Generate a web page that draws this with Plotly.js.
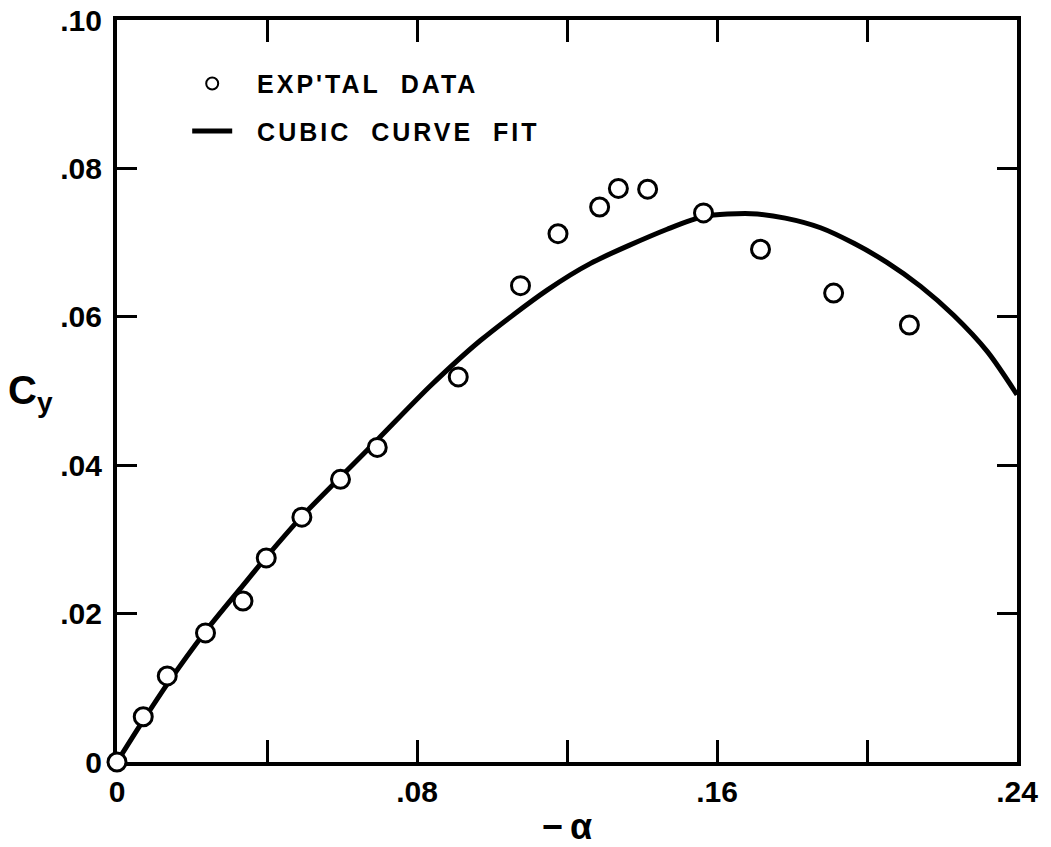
<!DOCTYPE html>
<html>
<head>
<meta charset="utf-8">
<script src="https://cdn.plot.ly/plotly-3.0.1.min.js"></script>
<style>
html, body { margin: 0; padding: 0; background: #fff; }
#chart { width: 1051px; height: 847px; }
.legendtext { letter-spacing: 3px; }
</style>
</head>
<body>
<div id="chart"></div>
<script>
// Experimental data: -alpha vs Cy
const expAlpha = [0, 0.0070, 0.0134, 0.0236, 0.0336, 0.0398, 0.0493, 0.0596, 0.0694, 0.0910, 0.1076, 0.1176, 0.1287, 0.1337, 0.1415, 0.1564, 0.1716, 0.1911, 0.2113];
const expCy    = [0, 0.0061, 0.0116, 0.0174, 0.0217, 0.0275, 0.0330, 0.0381, 0.0424, 0.0519, 0.0642, 0.0712, 0.0748, 0.0773, 0.0772, 0.0740, 0.0691, 0.0632, 0.0589];

// Cubic curve fit
const fitAlpha = [0, 0.0070, 0.0134, 0.0236, 0.0336, 0.0398, 0.0493, 0.0596, 0.0694, 0.0836, 0.0969, 0.1147, 0.1263, 0.1467, 0.1564, 0.1691, 0.1782, 0.1876, 0.1965, 0.2054, 0.2143, 0.2231, 0.2321, 0.2400];
const fitCy    = [0, 0.0056, 0.0105, 0.0176, 0.0238, 0.0276, 0.0331, 0.0384, 0.0434, 0.0507, 0.0568, 0.0636, 0.0672, 0.0718, 0.0735, 0.0739, 0.0733, 0.0720, 0.0699, 0.0673, 0.0641, 0.0602, 0.0553, 0.0495];

const xTickVals = [0, 0.04, 0.08, 0.12, 0.16, 0.20, 0.24];
const xTickText = ["0", "", ".08", "", ".16", "", ".24"];
const yTickVals = [0, 0.02, 0.04, 0.06, 0.08, 0.10];
const yTickText = ["0", ".02", ".04", ".06", ".08", ".10"];

const legendData = "\u00A0\u00A0EXP'TAL\u00A0\u00A0DATA";
const legendFit  = "\u00A0\u00A0CUBIC\u00A0\u00A0CURVE\u00A0\u00A0FIT";

const font = "Liberation Sans, Arial, sans-serif";

const traces = [
  {
    x: fitAlpha, y: fitCy, type: 'scatter', mode: 'lines',
    name: legendFit, legendgroup: 'b', legendrank: 2,
    line: { color: '#000', width: 5, shape: 'spline', smoothing: 0.8 },
    cliponaxis: false, hoverinfo: 'skip'
  },
  {
    x: expAlpha, y: expCy, type: 'scatter', mode: 'markers',
    name: legendData, legendgroup: 'a', legendrank: 1,
    marker: { symbol: 'circle', size: 18, color: '#fff', line: { color: '#000', width: 3 } },
    cliponaxis: false
  }
];

const axisCommon = {
  showgrid: false, zeroline: false,
  showline: true, linecolor: '#000', linewidth: 4, mirror: 'ticks',
  ticks: 'inside', tickcolor: '#000', tickwidth: 3,
  tickmode: 'array', layer: 'below traces',
  tickfont: { family: font, size: 30, color: '#000', weight: 'bold' }
};

const layout = {
  width: 1051, height: 847,
  margin: { l: 117, r: 34, t: 20, b: 85, autoexpand: false },
  paper_bgcolor: '#fff', plot_bgcolor: '#fff',
  showlegend: true,
  legend: {
    xref: 'paper', yref: 'paper',
    x: 0.078, y: 0.945, xanchor: 'left', yanchor: 'top',
    bgcolor: 'rgba(0,0,0,0)', borderwidth: 0,
    font: { family: font, size: 25, color: '#000', weight: 'bold' },
    itemsizing: 'constant', itemwidth: 40,
    traceorder: 'grouped', tracegroupgap: 12
  },
  xaxis: Object.assign({}, axisCommon, {
    range: [0, 0.24], tickvals: xTickVals, ticktext: xTickText, ticklen: 22,
    ticklabelstandoff: 0,
    title: { text: "\u2212\u2009\u03B1", font: { family: font, size: 36, color: '#000', weight: 'bold' }, standoff: 10 }
  }),
  yaxis: Object.assign({}, axisCommon, {
    range: [0, 0.10], tickvals: yTickVals, ticktext: yTickText, ticklen: 20,
    ticklabelstandoff: 5
  }),
  annotations: [
    {
      xref: 'paper', yref: 'paper', x: -0.123, y: 0.497,
      xanchor: 'left', yanchor: 'middle', showarrow: false,
      text: "C<sub>y</sub>", font: { family: font, size: 40, color: '#000', weight: 'bold' }
    }
  ]
};

Plotly.newPlot('chart', traces, layout, { displayModeBar: false, staticPlot: true });
</script>
</body>
</html>
